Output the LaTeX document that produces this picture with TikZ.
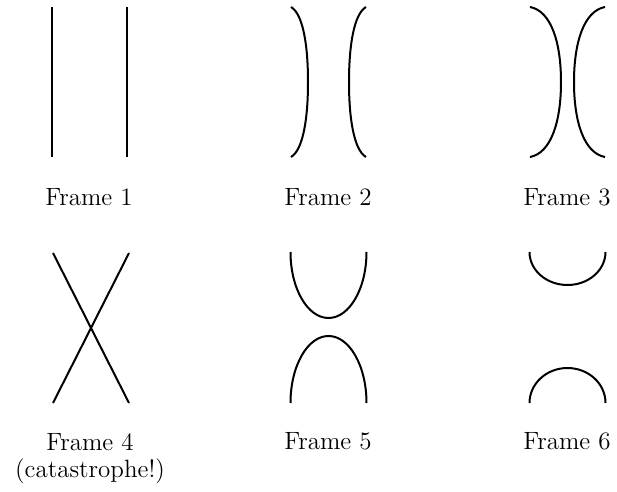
\documentclass[tikz,border=0pt]{standalone}
\usepackage{tikz}

\tikzset{
  strand/.style={line width=1pt, line cap=butt},
  framelabel/.style={font=\fontsize{12.5}{13}\selectfont, inner sep=0pt, anchor=base}
}

\begin{document}
\begin{tikzpicture}[x=0.5pt,y=0.5pt]
\useasboundingbox (0,0) rectangle (617,-492);
% row 1
\draw[strand] (52,-7) -- (52,-157);
\draw[strand] (127,-7) -- (127,-157);
\draw[strand] (291,-7) .. controls (303,-14) and (308,-45) .. (308,-82)
  .. controls (308,-119) and (303,-150) .. (291,-157);
\draw[strand] (366,-7) .. controls (354,-14) and (349,-45) .. (349,-82)
  .. controls (349,-119) and (354,-150) .. (366,-157);
\draw[strand] (530,-7) .. controls (551,-11) and (561,-42) .. (561,-82)
  .. controls (561,-122) and (551,-153) .. (530,-157);
\draw[strand] (605,-7) .. controls (584,-11) and (574,-42) .. (574,-82)
  .. controls (574,-122) and (584,-153) .. (605,-157);
\node[framelabel] (f1) at (89,-206) {Frame 1};
\node[framelabel] (f2) at (328,-206) {Frame 2};
\node[framelabel] (f3) at (567,-206) {Frame 3};
% row 2
\draw[strand] (53,-253) -- (129,-403);
\draw[strand] (129,-253) -- (53,-403);
\draw[strand] (290.5,-252) arc[start angle=180,end angle=360,x radius=38,y radius=66];
\draw[strand] (290.5,-403) arc[start angle=180,end angle=0,x radius=38,y radius=67];
\draw[strand] (529.5,-252) arc[start angle=180,end angle=360,x radius=38,y radius=33];
\draw[strand] (529.5,-403) arc[start angle=180,end angle=0,x radius=38,y radius=35];
\node[framelabel] (f4) at (90,-451) {Frame 4};
\node[framelabel] (f4note) at (90,-477) {(catastrophe!)};
\node[framelabel] (f5) at (328,-450) {Frame 5};
\node[framelabel] (f6) at (567,-450) {Frame 6};
\end{tikzpicture}
\end{document}
